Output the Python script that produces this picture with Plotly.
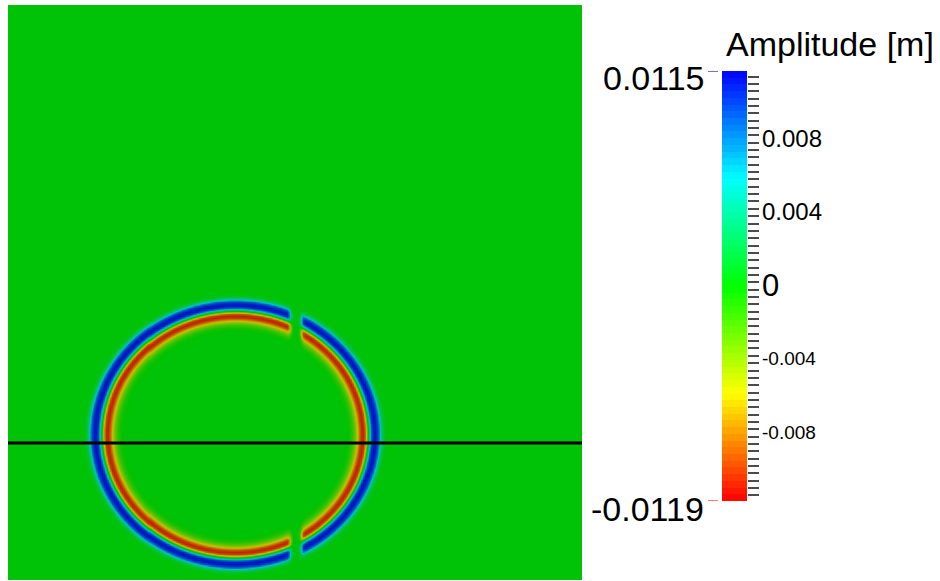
import numpy as np
import plotly.graph_objects as go

# ---------------- data ----------------
# domain of the field (arbitrary length units, origin bottom-left)
domain_x = [0.0, 574.0]
domain_y = [0.0, 575.0]

# wave front: centre and radii of the leading (positive) crest
front_center = [227.0, 146.0]
front_radii = [139.5, 129.5]

# radial amplitude profile across the front, offset measured inward from the crest
ring_offset = [-12, -9, -6.5, -4.5, -2, 0, 2, 3.5, 5, 6, 7.5, 9, 10.5, 12, 13.5, 15.5, 18, 20.5, 23.5, 28]
ring_amp = [0.0, 0.0008, 0.0035, 0.0082, 0.0105, 0.0109, 0.0104, 0.0078, 0.0035, 0.0005,
            -0.0048, -0.0090, -0.0107, -0.0109, -0.0100, -0.0072, -0.0042, -0.0021, -0.0007, 0.0]

# position of the barrier slit that cuts the front
slit_x = 287.5
slit_halfwidth = 6.0

# horizontal probe line
probe_y = 137.0

# colour range
amp_min = -0.0119
amp_max = 0.0115
cb_tick_vals = [0.008, 0.004, 0.0, -0.004, -0.008]
cb_tick_text = ["0.008", "0.004", "0", "-0.004", "-0.008"]
cb_title = "Amplitude [m]"
cb_minor_step = 0.0004
cb_bands = 64

# ---------------- styling ----------------
cb_tick_sizes = [24, 24, 31, 19, 19]
rainbow = [(255, 0, 0), (255, 255, 0), (0, 255, 0), (0, 255, 255), (0, 0, 255)]
shade = 0.76


def scale(cols, f=1.0):
    n = len(cols) - 1
    return [[i / n, "rgb(%d,%d,%d)" % tuple(int(round(c * f)) for c in col)] for i, col in enumerate(cols)]


# ---------------- build field ----------------
nx, ny = 287, 288
xs = np.linspace(domain_x[0], domain_x[1], nx)
ys = np.linspace(domain_y[0], domain_y[1], ny)
X, Y = np.meshgrid(xs, ys)
rho = np.sqrt(((X - front_center[0]) / front_radii[0]) ** 2 + ((Y - front_center[1]) / front_radii[1]) ** 2)
r_eff = np.sqrt(front_radii[0] * front_radii[1])
d_in = (1.0 - rho) * r_eff
Z = np.interp(d_in, ring_offset, ring_amp, left=0.0, right=0.0)
mask = 1.0 - np.exp(-(np.abs(X - slit_x) / slit_halfwidth) ** 4)
Z = Z * mask

fig = go.Figure()
fig.add_trace(go.Heatmap(
    x=xs, y=ys, z=Z, zmin=amp_min, zmax=amp_max,
    colorscale=scale(rainbow, shade), showscale=False, zsmooth="best",
    hoverinfo="skip", xaxis="x", yaxis="y"))

fig.add_trace(go.Scatter(
    x=domain_x, y=[probe_y, probe_y], mode="lines",
    line=dict(color="black", width=3), hoverinfo="skip", showlegend=False,
    xaxis="x", yaxis="y"))

# colour bar drawn as a banded heatmap
edges = np.linspace(amp_min, amp_max, cb_bands + 1)
centers = 0.5 * (edges[:-1] + edges[1:])
fig.add_trace(go.Heatmap(
    x=[0], y=centers, z=centers.reshape(-1, 1), zmin=amp_min, zmax=amp_max,
    colorscale=scale(rainbow), showscale=False, hoverinfo="skip",
    xaxis="x2", yaxis="y2"))

# all tick positions (minor + major) on the colour bar
k0 = int(np.ceil(amp_min / cb_minor_step))
k1 = int(np.floor(amp_max / cb_minor_step))
all_ticks = [round(k * cb_minor_step, 6) for k in range(k0, k1 + 1)]

W, H = 940, 581
ml, mr, mt, mb = 8, 0, 5, 1
pw = W - ml - mr
ph = H - mt - mb


def px(xi):
    return (xi - ml) / pw


def py(yi):
    return (H - mb - yi) / ph


tick_col = "rgba(55,55,55,0.9)"
fig.update_layout(
    width=W, height=H, margin=dict(l=ml, r=mr, t=mt, b=mb),
    paper_bgcolor="white", plot_bgcolor="white", showlegend=False,
    font=dict(family="Liberation Sans, Arial, sans-serif", color="black"),
    xaxis=dict(domain=[0, px(582)], range=domain_x, visible=False, fixedrange=True),
    yaxis=dict(domain=[0, 1], range=domain_y, visible=False, fixedrange=True),
    xaxis2=dict(domain=[px(722), px(747)], range=[-0.5, 0.5], visible=False, anchor="y2",
                fixedrange=True),
    yaxis2=dict(domain=[py(501), py(71)], range=[amp_min, amp_max], anchor="x2", side="right",
                showgrid=False, zeroline=False, showline=False, showticklabels=False,
                tickmode="array", tickvals=all_ticks, ticks="outside", ticklen=11,
                tickwidth=1.6, tickcolor=tick_col, fixedrange=True),
    yaxis3=dict(domain=[py(501), py(71)], range=[amp_min, amp_max], anchor="x2", side="right",
                overlaying="y2", showgrid=False, zeroline=False, showline=False,
                showticklabels=False, tickmode="array", tickvals=cb_tick_vals,
                ticks="inside", ticklen=11, tickwidth=1.6, tickcolor=tick_col, fixedrange=True),
)

annotations = [
    dict(text=cb_title, xref="paper", yref="paper", x=px(724), y=py(44), xanchor="left",
         yanchor="middle", showarrow=False, font=dict(size=34)),
    dict(text="%g" % amp_max, xref="paper", yref="y2", x=px(706), y=amp_max, xanchor="right",
         yanchor="middle", yshift=-7, showarrow=False, font=dict(size=34)),
    dict(text="%g" % amp_min, xref="paper", yref="y2", x=px(706), y=amp_min, xanchor="right",
         yanchor="middle", yshift=-8, showarrow=False, font=dict(size=34)),
]
for v, t, s in zip(cb_tick_vals, cb_tick_text, cb_tick_sizes):
    annotations.append(dict(text=t, xref="paper", yref="y2", x=px(760), y=v, xanchor="left",
                            yanchor="middle", yshift=-3, showarrow=False, font=dict(size=s)))
fig.update_layout(annotations=annotations)

fig.add_shape(type="line", xref="paper", yref="y2", x0=px(708), x1=px(718), y0=amp_max, y1=amp_max,
              line=dict(color="rgb(60,60,255)", width=1.5))
fig.add_shape(type="line", xref="paper", yref="y2", x0=px(708), x1=px(718), y0=amp_min, y1=amp_min,
              line=dict(color="rgb(255,80,80)", width=1.5))

fig.write_html("out.html", config={"displayModeBar": False},
               post_script="document.body.style.margin='0px';")
